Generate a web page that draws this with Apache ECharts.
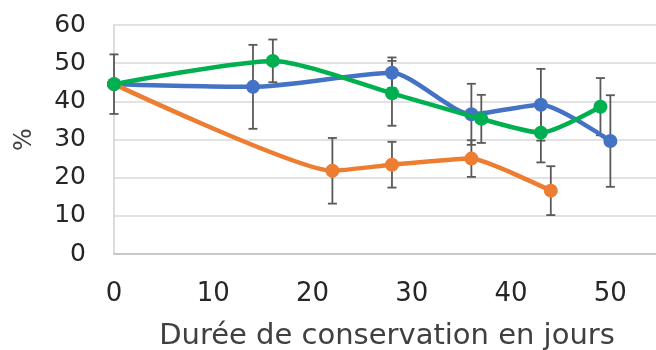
<!DOCTYPE html>
<html><head><meta charset="utf-8">
<script src="https://cdn.jsdelivr.net/npm/echarts@6/dist/echarts.min.js"></script>
<style>html,body{margin:0;padding:0;background:#fff}#c{width:656px;height:350px}</style>
</head><body><div id="c"></div>
<script>
// Series data: [day, value]
const blueX = [0, 14, 28, 36, 43, 50];
const blueY = [44.5, 43.8, 47.5, 36.6, 39.1, 29.6];
const blueErr = [7.8, 11, 4, 8, 9.4, 12];
const orangeX = [0, 22, 28, 36, 44];
const orangeY = [44.5, 21.8, 23.4, 25.0, 16.6];
const orangeErr = [0, 8.6, 6, 4.8, 6.4];
const greenX = [0, 16, 28, 37, 43, 49];
const greenY = [44.5, 50.6, 42.1, 35.4, 31.8, 38.6];
const greenErr = [0, 5.6, 8.5, 6.3, 7.8, 7.5];
const yTicks = [0, 10, 20, 30, 40, 50, 60];
const xTicks = [0, 10, 20, 30, 40, 50];
const xTitle = 'Durée de conservation en jours';
const yTitle = '%';

const FONT = 'DejaVu Sans';
const colors = ['#4472C4', '#ED7D31', '#00B050'];

function pairs(xs, ys) { return xs.map((x, i) => [x, ys[i]]); }
function errData(xs, ys, es) { return xs.map((x, i) => [x, ys[i], es[i]]).filter(d => d[2] > 0); }

function errRender(params, api) {
  const x = api.value(0), y = api.value(1), e = api.value(2);
  const top = api.coord([x, y + e]);
  const bot = api.coord([x, y - e]);
  const hw = 4.5;
  const st = { stroke: '#595959', lineWidth: 1.8 };
  return {
    type: 'group',
    children: [
      { type: 'line', shape: { x1: top[0], y1: top[1], x2: bot[0], y2: bot[1] }, style: st },
      { type: 'line', shape: { x1: top[0] - hw, y1: top[1], x2: top[0] + hw, y2: top[1] }, style: st },
      { type: 'line', shape: { x1: bot[0] - hw, y1: bot[1], x2: bot[0] + hw, y2: bot[1] }, style: st }
    ]
  };
}

const allErr = [].concat(
  errData(blueX, blueY, blueErr),
  errData(orangeX, orangeY, orangeErr),
  errData(greenX, greenY, greenErr)
);

function lineSeries(xs, ys, color, z, sm) {
  return {
    type: 'line', data: pairs(xs, ys), smooth: sm, z: z,
    symbol: 'circle', symbolSize: 14,
    lineStyle: { color: color, width: 4.5 },
    itemStyle: { color: color },
    emphasis: { disabled: true }
  };
}

const chart = echarts.init(document.getElementById('c'), null, { renderer: 'canvas' });
chart.setOption({
  animation: false,
  grid: { left: 114, top: 25, bottom: 96, right: -4, containLabel: false, outerBoundsMode: 'none' },
  xAxis: {
    type: 'value', min: 0, max: 55, interval: 10,
    name: xTitle, nameLocation: 'middle', nameGap: 68,
    nameTextStyle: { fontFamily: FONT, fontSize: 29, color: '#404040' },
    axisLine: { show: true, lineStyle: { color: '#BFBFBF', width: 1.5 } },
    axisTick: { show: false },
    splitLine: { show: false },
    axisLabel: { fontFamily: FONT, fontSize: 26, color: '#262626', margin: 27, showMaxLabel: false,
      formatter: v => xTicks.indexOf(v) >= 0 ? String(v) : '' }
  },
  yAxis: {
    type: 'value', min: 0, max: 60, interval: 10,
    name: yTitle, nameLocation: 'middle', nameGap: 77, nameRotate: 90,
    nameTextStyle: { fontFamily: FONT, fontSize: 24, color: '#404040' },
    axisLine: { show: true, lineStyle: { color: '#D0D0D0', width: 1.5 } },
    axisTick: { show: false },
    splitLine: { lineStyle: { color: '#D9D9D9', width: 1.5 } },
    axisLabel: { fontFamily: FONT, fontSize: 25, color: '#262626', margin: 28,
      formatter: v => yTicks.indexOf(v) >= 0 ? String(v) : '' }
  },
  series: [
    { type: 'custom', data: allErr, renderItem: errRender, z: 1, encode: { x: 0, y: 1 } },
    lineSeries(blueX, blueY, colors[0], 2, 0.22),
    lineSeries(orangeX, orangeY, colors[1], 3, 0.15),
    lineSeries(greenX, greenY, colors[2], 4, 0.22)
  ]
});
</script></body></html>
